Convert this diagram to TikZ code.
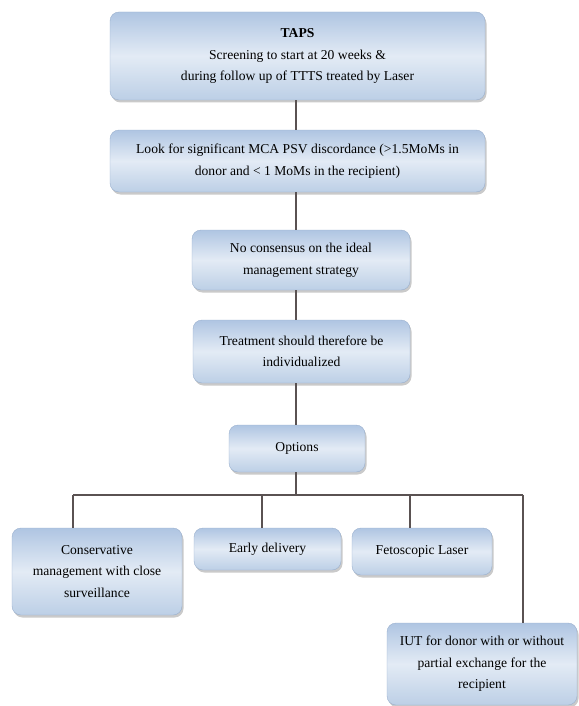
\documentclass[tikz,border=0pt]{standalone}
\usepackage{fontspec}
\setmainfont{Liberation Serif}
\usetikzlibrary{shadows}
\definecolor{boxedge}{HTML}{9AB0CE}
\definecolor{boxtop}{HTML}{AFC5E2}
\definecolor{boxmid}{HTML}{E3EBF5}
\definecolor{boxbot}{HTML}{BCCFE6}
\definecolor{linkgray}{HTML}{5A5252}
\tikzset{
  stepbox/.style={draw=boxedge, rounded corners=9pt, top color=boxtop, bottom color=boxbot, middle color=boxmid,
    align=center, inner sep=2pt, font=\fontsize{13.6}{21.5}\selectfont,
    drop shadow={shadow xshift=1.5pt, shadow yshift=-2.5pt, fill=gray!70, opacity=0.6}},
  link/.style={draw=linkgray, line width=1.3pt}
}
\begin{document}
\begin{tikzpicture}[x=1pt,y=-1pt]
\useasboundingbox (0,0) rectangle (578,706);
\node[stepbox, minimum width=375pt, minimum height=88pt] (taps) at (297.5,56) {\textbf{TAPS}\\Screening to start at 20 weeks \&\\during follow up of TTTS treated by Laser};
\node[stepbox, minimum width=375pt, minimum height=62pt] (look) at (297.5,161) {Look for significant MCA PSV discordance (>1.5MoMs in\\donor and < 1 MoMs in the recipient)};
\node[stepbox, minimum width=218pt, minimum height=60pt] (consensus) at (301,260) {No consensus on the ideal\\management strategy};
\node[stepbox, minimum width=217pt, minimum height=63pt] (treat) at (301.5,351.5) {Treatment should therefore be\\individualized};
\node[stepbox, minimum width=136pt, minimum height=47pt] (opts) at (297,448.5) {Options};
\node[stepbox, minimum width=170pt, minimum height=87pt] (conserv) at (97,571.5) {Conservative\\management with close\\surveillance};
\node[stepbox, minimum width=147pt, minimum height=42pt] (early) at (267.5,549) {Early delivery};
\node[stepbox, minimum width=140pt, minimum height=47pt] (feto) at (422,551.5) {Fetoscopic Laser};
\node[stepbox, minimum width=190pt, minimum height=82pt] (iut) at (482,664) {IUT for donor with or without\\partial exchange for the\\recipient};
% trunk
\coordinate (bar) at (296,495);
\draw[link] (taps.south -| bar) -- (look.north -| bar);
\draw[link] (look.south -| bar) -- (consensus.north -| bar);
\draw[link] (consensus.south -| bar) -- (treat.north -| bar);
\draw[link] (treat.south -| bar) -- (opts.north -| bar);
\draw[link] (opts.south -| bar) -- (bar);
% branches
\coordinate (d1) at (73,495);
\coordinate (d2) at (262,495);
\coordinate (d3) at (410,495);
\coordinate (d4) at (523,495);
\draw[link] (d1) -- (d4);
\draw[link] (d1) -- (d1 |- conserv.north);
\draw[link] (d2) -- (d2 |- early.north);
\draw[link] (d3) -- (d3 |- feto.north);
\draw[link] (d4) -- (d4 |- iut.north);
\end{tikzpicture}
\end{document}
